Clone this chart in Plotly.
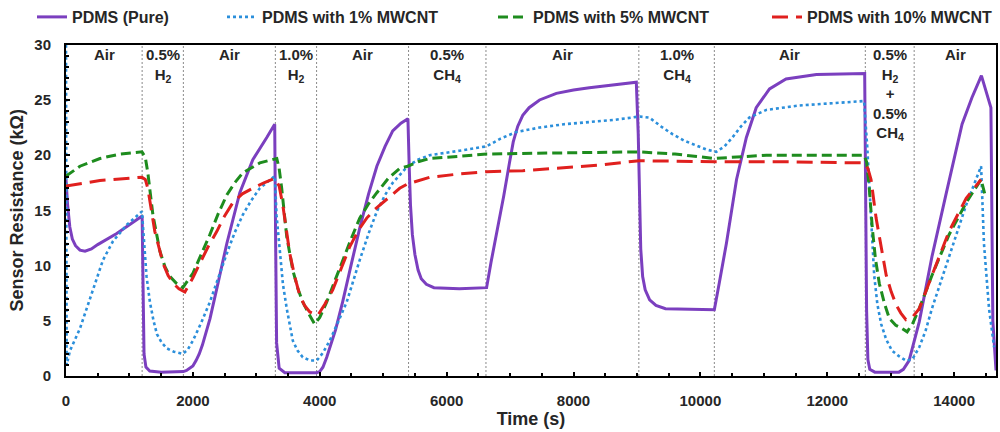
import plotly.graph_objects as go

# Time (s) and resistance (kOhm) for each sensor film
t_pure = [0, 25, 60, 100, 150, 220, 300, 400, 500, 800, 1000, 1200, 1215, 1230, 1260, 1320,
          1500, 1850, 1900, 1950, 2000, 2050, 2100, 2150, 2270, 2400, 2535, 2740, 2945, 3165,
          3290, 3305, 3320, 3360, 3450, 3950, 4000, 4050, 4110, 4250, 4360, 4500, 4630, 4770,
          4900, 5030, 5150, 5280, 5390, 5410, 5430, 5460, 5500, 5550, 5600, 5680, 5800, 6200,
          6630, 6700, 6800, 6900, 6990, 7050, 7120, 7200, 7300, 7465, 7730, 8000, 8250, 8600,
          8990, 9020, 9040, 9060, 9090, 9130, 9200, 9300, 9450, 10220, 10300, 10410, 10570,
          10725, 10880, 11090, 11350, 11830, 12590, 12605, 12620, 12640, 12670, 12750, 13130,
          13200, 13290, 13450, 13650, 13870, 14125, 14280, 14430, 14580, 14610, 14660]
r_pure = [17.8, 15.5, 13.5, 12.4, 11.8, 11.4, 11.3, 11.5, 11.9, 12.9, 13.7, 14.5, 8.0, 2.0,
          0.8, 0.45, 0.35, 0.4, 0.5, 0.7, 0.9, 1.4, 2.0, 2.8, 5.2, 8.5, 12.0, 16.6, 19.6, 21.6,
          22.8, 12.0, 3.0, 0.7, 0.3, 0.3, 0.4, 0.8, 1.7, 4.2, 6.7, 10.2, 13.4, 16.5,
          19.0, 20.8, 22.2, 22.9, 23.3, 19.0, 15.5, 12.8, 11.0, 9.6, 8.8, 8.3, 8.0, 7.9,
          8.0, 10.3, 13.2, 16.3, 19.3, 21.2, 22.6, 23.6, 24.3, 25.0, 25.6, 25.9, 26.1, 26.35,
          26.6, 22.0, 16.0, 11.5, 9.0, 7.8, 6.9, 6.4, 6.1, 6.0, 8.5, 12.0, 17.8,
          21.6, 24.3, 26.0, 26.9, 27.3, 27.4, 18.0, 6.0, 1.5, 0.6, 0.35, 0.35,
          0.6, 1.4, 4.9, 10.8, 16.4, 22.8, 25.2, 27.2, 24.3, 5.0, 0.5]

t_1 = [0, 10, 63, 220, 425, 583, 740, 960, 1197, 1230, 1270, 1323, 1380, 1433, 1510, 1590,
       1700, 1842, 1920, 2000, 2130, 2268, 2400, 2535, 2660, 2787, 2920, 3055, 3180, 3291,
       3320, 3370, 3420, 3480, 3575, 3650, 3732, 3850, 3953, 4050, 4157, 4290, 4425, 4630,
       4770, 4900, 5030, 5150, 5270, 5386, 5550, 5732, 6200, 6630, 6850, 7100, 7465, 7850,
       8250, 8650, 9040, 9197, 9380, 9560, 9750, 9937, 10100, 10250, 10380, 10504, 10640,
       10770, 11040, 11560, 12100, 12580, 12630, 12690, 12740, 12790, 12850, 12930, 13020,
       13130, 13240, 13340, 13450, 13550, 13650, 13920, 14190, 14425, 14470, 14550, 14630]
r_1 = [30.0, 1.0, 2.3, 4.3, 7.8, 10.5, 12.2, 13.7, 14.9, 12.5, 9.0, 6.7, 5.0, 3.8, 3.0, 2.5,
       2.2, 2.0, 2.4, 3.2, 4.8, 6.7, 8.9, 11.1, 13.0, 14.6, 15.9, 17.0, 17.6, 18.1,
       14.5, 11.1, 8.3, 6.1, 3.2, 2.3, 1.7, 1.4, 1.4, 2.1, 3.2, 4.9, 6.7, 10.5,
       12.9, 14.9, 16.4, 17.5, 18.3, 19.0, 19.6, 20.0, 20.4, 20.8, 21.5, 22.1, 22.5, 22.8,
       23.0, 23.2, 23.5, 23.4, 22.6, 21.9, 21.3, 20.9, 20.5, 20.3, 20.8, 21.6, 22.6,
       23.4, 24.1, 24.5, 24.7, 24.9, 20.8, 14.9, 9.1, 6.5, 4.7, 3.3, 2.3,
       1.8, 1.4, 1.5, 2.6, 4.1, 6.1, 10.8, 15.5, 19.0, 12.0, 6.1, 2.6]

t_5 = [0, 220, 535, 850, 1197, 1250, 1290, 1370, 1480, 1560, 1640, 1740, 1842, 2000, 2130,
       2268, 2400, 2535, 2660, 2787, 3055, 3323, 3360, 3400, 3480, 3575, 3650, 3732, 3830,
       3920, 4000, 4110, 4230, 4360, 4500, 4630, 4770, 4900, 5080, 5260, 5386, 5550, 5732,
       6200, 6630, 7730, 9040, 9600, 10220, 11040, 12580, 12620, 12660, 12710, 12760, 12820,
       12900, 12980, 13080, 13180, 13260, 13350, 13450, 13650, 13920, 14190, 14425, 14500]
r_5 = [18.1, 19.0, 19.7, 20.1, 20.3, 19.8, 18.4, 14.6, 11.3, 9.9, 9.0, 8.4, 8.0, 9.3, 11.0,
       12.8, 14.7, 16.4, 17.5, 18.4, 19.3, 19.7, 18.8, 17.0, 12.6, 9.6, 8.0, 6.7, 5.6,
       4.7, 5.3, 6.7, 8.5, 10.5, 12.5, 14.3, 15.6, 16.6, 17.9, 18.8, 19.0, 19.4, 19.7,
       19.9, 20.1, 20.2, 20.3, 20.1, 19.7, 20.0, 20.0, 19.4, 17.2, 13.4, 10.6, 8.4,
       6.6, 5.2, 4.6, 4.3, 4.0, 4.8, 6.1, 9.1, 12.8, 15.7, 17.8, 16.1]

t_10 = [0, 535, 1197, 1250, 1290, 1400, 1530, 1610, 1690, 1780, 1874, 2000, 2110, 2240, 2378,
        2500, 2630, 2780, 2945, 3120, 3291, 3360, 3417, 3527, 3610, 3685, 3760, 3843, 3970,
        4080, 4205, 4340, 4472, 4610, 4740, 4870, 4992, 5130, 5260, 5386, 5550, 5732, 6200,
        6630, 7200, 7730, 8400, 9040, 10220, 11300, 12580, 12640, 12690, 12770, 12850, 12930,
        13010, 13090, 13160, 13240, 13340, 13450, 13650, 13920, 14190, 14425]
r_10 = [17.2, 17.7, 18.0, 17.8, 17.0, 13.1, 10.2, 9.1, 8.4, 7.9, 7.6, 8.9, 10.2, 11.7, 13.1,
        14.5, 15.7, 16.5, 17.0, 17.5, 17.9, 17.2, 15.5, 11.1, 8.9, 7.3, 6.4, 5.8, 5.5,
        6.5, 7.8, 9.8, 11.7, 13.2, 14.3, 15.1, 15.7, 16.4, 17.0, 17.4, 17.7, 18.0, 18.3,
        18.5, 18.6, 18.8, 19.1, 19.5, 19.4, 19.4, 19.3, 18.8, 17.8, 14.3, 11.5, 9.1,
        7.6, 6.4, 5.7, 5.1, 5.3, 6.1, 9.1, 13.1, 16.1, 17.8]

# Gas exposure phases: boundaries (s) and labels
phase_edges = [0, 1200, 1850, 3300, 3950, 5400, 6620, 9030, 10220, 12600, 13370, 14660]
phase_labels = ["Air", "0.5%<br>H<sub>2</sub>", "Air", "1.0%<br>H<sub>2</sub>", "Air",
                "0.5%<br>CH<sub>4</sub>", "Air", "1.0%<br>CH<sub>4</sub>", "Air",
                "0.5%<br>H<sub>2</sub><br>+<br>0.5%<br>CH<sub>4</sub>", "Air"]

FONT = "Liberation Sans, Arial, sans-serif"
TXT = "#262626"

series = [
    ("PDMS (Pure)", t_pure, r_pure, dict(color="#7B3FBF", width=3), "legend"),
    ("PDMS with 1% MWCNT", t_1, r_1, dict(color="#2B8FDB", width=2.6, dash="dot"), "legend2"),
    ("PDMS with 5% MWCNT", t_5, r_5, dict(color="#1E8C1E", width=3, dash="10px,5px"), "legend3"),
    ("PDMS with 10% MWCNT", t_10, r_10, dict(color="#E0201E", width=3, dash="16px,8px"), "legend4"),
]

fig = go.Figure()
for name, tx, ry, line, leg in series:
    fig.add_trace(go.Scatter(x=tx, y=ry, mode="lines", name=name, line=line, legend=leg))

for edge in phase_edges[1:-1]:
    fig.add_shape(type="line", x0=edge, x1=edge, y0=0, y1=1, xref="x", yref="paper",
                  line=dict(color="#8a8a8a", width=1, dash="2px,2px"), layer="below")

# phase names along the top of the plot area
for i, lab in enumerate(phase_labels):
    xc = (phase_edges[i] + phase_edges[i + 1]) / 2
    fig.add_annotation(x=xc, y=1.0, xref="x", yref="paper", text=lab, showarrow=False,
                       yanchor="top", align="center", yshift=1,
                       font=dict(family=FONT, size=15, color=TXT, weight="bold"))

axis_common = dict(showline=True, linecolor="black", linewidth=2, mirror=True,
                   ticks="inside", ticklen=4, tickwidth=1.5, tickcolor="black",
                   showgrid=False, zeroline=False, ticklabelstandoff=10,
                   tickfont=dict(family=FONT, size=15, color=TXT, weight="bold"))


def legend_at(xpos):
    return dict(orientation="h", x=xpos, y=1.0, xref="container", yref="container",
                xanchor="left", yanchor="top", bgcolor="rgba(0,0,0,0)",
                font=dict(family=FONT, size=16, color=TXT, weight="bold"))


fig.update_layout(
    width=1000, height=432,
    margin=dict(l=66, r=2, t=35, b=56),
    paper_bgcolor="white", plot_bgcolor="white",
    showlegend=True,
    legend=legend_at(0.032),
    legend2=legend_at(0.222),
    legend3=legend_at(0.493),
    legend4=legend_at(0.767),
    xaxis=dict(range=[0, 14660], dtick=2000, tick0=0, tickformat="d",
               minor=dict(ticks="inside", dtick=500, ticklen=3, tickcolor="black"),
               title=dict(text="Time (s)", standoff=2,
                          font=dict(family=FONT, size=18, color=TXT, weight="bold")),
               **axis_common),
    yaxis=dict(range=[0, 30], dtick=5, tick0=0,
               minor=dict(ticks="inside", dtick=1, ticklen=3, tickcolor="black"),
               title=dict(text="Sensor Resistance (kΩ)", standoff=6,
                          font=dict(family=FONT, size=18, color=TXT, weight="bold")),
               **axis_common),
)

fig.write_html("out.html")
